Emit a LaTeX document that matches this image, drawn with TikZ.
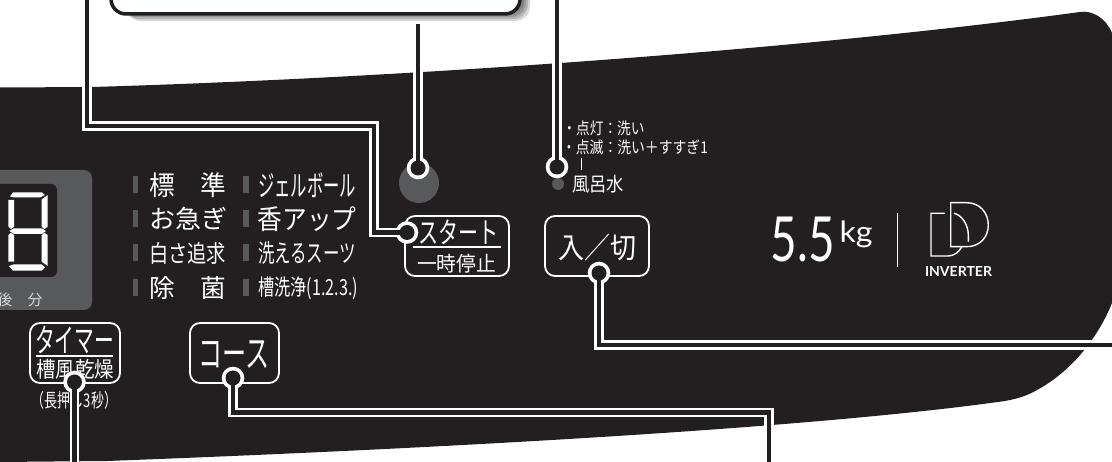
\documentclass[tikz,border=0pt]{standalone}
\usepackage{fontspec}
\usepackage{graphicx}
\setmainfont{Noto Sans CJK JP}
\newfontfamily\latinfont{Lato}
\definecolor{panel}{HTML}{231F20}
\definecolor{lamp}{HTML}{58595B}
\newcommand{\fitto}[3]{\resizebox*{#1pt}{#2pt}{#3}}
\tikzset{
  tl/.style = {text=white, inner sep=0pt},
  btn/.style = {draw=white, line width=1.8pt, rounded corners=10pt, inner sep=0pt,
                minimum width=#1, minimum height=60pt},
  bar/.style = {fill=lamp, inner sep=0pt, minimum width=5.5pt, minimum height=17pt},
  ringout/.style = {circle, fill=white, inner sep=0pt, minimum size=22.6pt},
  ringin/.style = {circle, fill=panel, inner sep=0pt, minimum size=15pt},
  lead/.style = {draw=white, double=panel, line width=2.5pt, double distance=4.8pt},
}
\begin{document}
\begin{tikzpicture}[x=1pt,y=-1pt]
  \useasboundingbox (0,0) rectangle (1112,462);
  \clip (0,0) rectangle (1112,462);

  % the panel
  \fill[panel] (0,87.5) -- (92,87) .. controls (400,78) and (800,50) .. (1080,12)
      .. controls (1092,10) and (1106,18) .. (1112,33) -- (1130,33) -- (1130,303) -- (1112,303)
      .. controls (1095,345) and (1065,375) .. (1037,390)
      .. controls (1025,397) and (1015,399) .. (1005,401)
      .. controls (800,430) and (400,450) .. (107,461) -- (0,462) -- cycle;

  % callout cut by the top edge, soft shadow first
  \foreach \s in {0,2,4,6}
    \fill[black,opacity=0.16,rounded corners=15pt] (120+\s,-30) rectangle (524+\s,15+\s);
  \node[draw=panel, fill=white, line width=3.5pt, rounded corners=15pt, inner sep=0pt,
        minimum width=409pt, minimum height=60pt] (callout) at (315.5,-16) {};

  % display
  \node[fill=lamp, rounded corners=8pt, inner sep=0pt,
        minimum width=122pt, minimum height=140pt] (display) at (31,240) {};
  \node[fill=panel, rounded corners=6pt, inner sep=0pt,
        minimum width=87pt, minimum height=93pt] (digit) at (13.5,230.5) {};
  \fill[white] (10,196.5) -- (13,192.5) -- (42,192.5) -- (45,195) -- (40,197.5) -- (14,197.5) -- cycle;
  \fill[white] (8.3,200) -- (14,200) -- (14,226.7) -- (11,229) -- (8.3,226.7) -- cycle;
  \fill[white] (41.7,199.3) -- (47.7,195) -- (47.7,226.7) -- (44.3,229) -- (41.7,226.7) -- cycle;
  \fill[white] (9.3,231) -- (14,228.3) -- (41.7,228.3) -- (46,231) -- (41.7,234) -- (14,234) -- cycle;
  \fill[white] (8.3,235) -- (11,232.7) -- (14,235) -- (14,261.7) -- (8.3,261.7) -- cycle;
  \fill[white] (41.7,235) -- (44.3,232.7) -- (47.7,235) -- (47.7,266) -- (41.7,261.7) -- cycle;
  \fill[white] (9,266) -- (14,264.3) -- (41.7,264.3) -- (45,267.3) -- (41.7,270.7) -- (13,270.7) -- cycle;
  \node[tl, text=white!75!lamp, font=\fontsize{15}{15}\selectfont] (ato) at (5,300) {後};
  \node[tl, text=white!75!lamp, font=\fontsize{15}{15}\selectfont] (fun) at (35,300) {分};

  % course list
  \foreach \y/\n in {184.5/a,218.5/b,252.5/c,287.5/d} {
    \node[bar] (left\n) at (135.5,\y) {};
    \node[bar] (right\n) at (246,\y) {};
  }
  \node[tl] (hyojun) at (187.5,185) {\fitto{77}{25}{標　準}};
  \node[tl] (oisogi) at (188,219) {\fitto{78}{23}{お急ぎ}};
  \node[tl] (shirosa) at (187.5,253) {\fitto{77}{22}{白さ追求}};
  \node[tl] (jokin) at (187.5,288) {\fitto{77}{23}{除　菌}};
  \node[tl] (gel) at (307,185) {\fitto{98}{25}{ジェルボール}};
  \node[tl] (kaori) at (307,219) {\fitto{99}{25}{香アップ}};
  \node[tl] (suits) at (307,253) {\fitto{98}{23}{洗えるスーツ}};
  \node[tl] (sousen) at (308,288) {\fitto{100}{23}{槽洗浄(1.2.3.)}};

  % buttons
  \node[btn=90pt] (timer) at (75,353) {};
  \node[tl] (timertop) at (74.5,340) {\fitto{79}{28}{タイマー}};
  \node[tl] (timerbot) at (75,369) {\fitto{78}{20}{槽風乾燥}};
  \node[tl] (timerdiv) at (74.5,356) {\rule{77pt}{1.2pt}};
  \node[tl] (timernote) at (74.5,400) {\fitto{85}{18}{（長押し3秒）}};
  \node[btn=89pt] (course) at (234.5,353) {};
  \node[tl] (coursetxt) at (234,355) {\fitto{71}{28}{コース}};
  \node[btn=104pt] (start) at (457,246) {};
  \node[tl] (starttop) at (458,232.5) {\fitto{80}{25}{スタート}};
  \node[tl] (startbot) at (456.5,263.5) {\fitto{79}{19}{一時停止}};
  \node[tl] (startdiv) at (457,247) {\rule{88pt}{1.2pt}};
  \node[btn=104pt] (power) at (597,246) {};
  \node[tl] (powertxt) at (597.5,247) {\fitto{78}{27}{入／切}};

  % start lamp and water lamp
  \node[circle, fill=lamp, inner sep=0pt, minimum size=40pt] (vent) at (419,183) {};
  \node[circle, fill=lamp, inner sep=0pt, minimum size=12pt] (led) at (558,184) {};
  \node[tl] (lit) at (603.5,128) {\fitto{82}{15}{・点灯：洗い}};
  \node[tl] (blink) at (635,147) {\fitto{146}{15}{・点滅：洗い＋すすぎ1}};
  \node[tl] (ledbar) at (581,164) {\fitto{1}{12}{\rule{1pt}{12pt}}};
  \node[tl] (bath) at (598,184) {\fitto{52}{18}{風呂水}};

  % capacity and logo
  \node[tl] (kilo) at (803,239.5) {\fitto{64}{45}{\latinfont 5.5}};
  \node[tl] (unit) at (856,234.5) {\fitto{33}{27}{\latinfont kg}};
  \node[tl] (sep) at (897,240) {\rule{1pt}{54pt}};
  \node[tl] (inverter) at (958.5,272) {\fitto{67}{10}{\latinfont\bfseries INVERTER}};
  \draw[white,line width=1.4pt] (950.7,202.7) -- (966.7,202.7) .. controls (980,202.7) and (988.3,213) .. (988.3,225)
      .. controls (988.3,237) and (980,246.7) .. (966.7,246.7) -- (950.7,246.7) -- cycle;
  \draw[white,line width=1.4pt] (945,213.3) -- (931,213.3) -- (931,256) -- (948,256)
      .. controls (954,256) and (959,252) .. (961.7,247);
  \draw[white,line width=1.4pt] (954,213.3) .. controls (962,215) and (968.3,225) .. (968.3,235) -- (968.3,241.7);

  % rings and their leaders
  \node[ringout] (startring) at (407,232.5) {};
  \node[ringout] (ventring) at (418,168) {};
  \node[ringout] (ledring) at (557,167) {};
  \node[ringout] (powerring) at (599,273) {};
  \node[ringout] (coursering) at (233,378) {};
  \node[ringout] (timerring) at (74.5,382) {};

  \coordinate (startbend) at (87,126);
  \coordinate (startfree) at (87,-6);
  \coordinate (ventfree) at (418,24);
  \coordinate (ledfree) at (557,-6);
  \coordinate (powerfree) at (1120,345);
  \coordinate (coursebend) at (769,412.5);
  \coordinate (coursefree) at (769,470);
  \coordinate (timerfree) at (74.5,470);

  \draw[lead] (startring.center) -- ++(-33,0) |- (startbend) -- (startfree);
  \draw[lead] (ventring.center) -- (ventfree);
  \draw[lead] (ledring.center) -- (ledfree);
  \draw[lead] (powerring.center) |- (powerfree);
  \draw[lead] (coursering.center) |- (coursebend) -- (coursefree);
  \draw[lead] (timerring.center) -- (timerfree);

  \node[ringin] (startdot) at (startring) {};
  \node[ringin] (ventdot) at (ventring) {};
  \node[ringin] (leddot) at (ledring) {};
  \node[ringin] (powerdot) at (powerring) {};
  \node[ringin] (coursedot) at (coursering) {};
  \node[ringin] (timerdot) at (timerring) {};

\end{tikzpicture}
\end{document}
